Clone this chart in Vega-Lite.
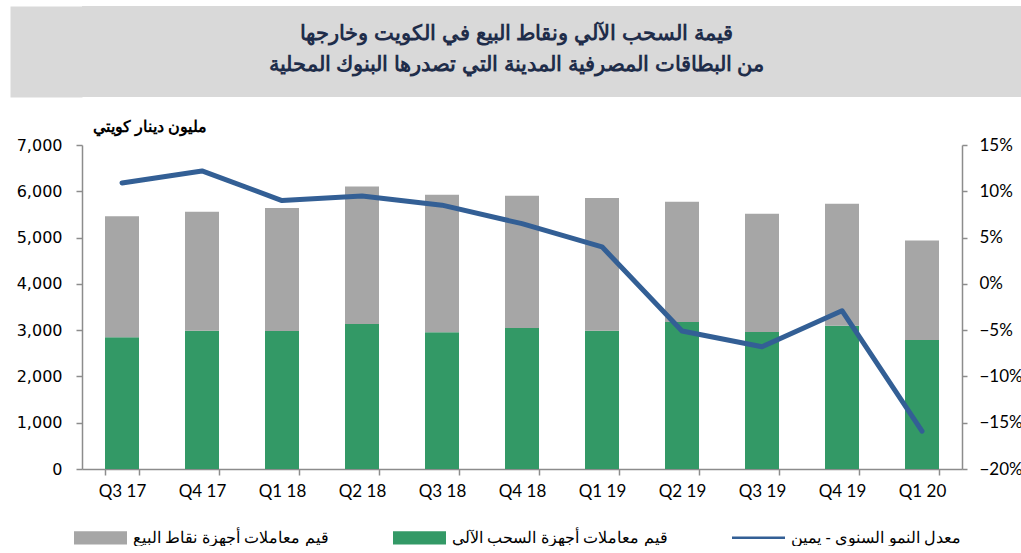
{
  "$schema": "https://vega.github.io/schema/vega-lite/v6.json",
  "padding": {"left": 16, "top": 6, "right": 0, "bottom": 0},
  "background": "white",
  "spacing": 22,
  "config": {
    "view": {"stroke": null},
    "font": "Liberation Sans"
  },
  "datasets": {
    "titles": [
      {"line": 1, "text": "قيمة السحب الآلي ونقاط البيع في الكويت وخارجها"},
      {"line": 2, "text": "من البطاقات المصرفية المدينة التي تصدرها البنوك المحلية"}
    ],
    "bars": [
      {"q": "Q3 17", "s": "قيم معاملات أجهزة السحب الآلي", "v": 2845},
      {"q": "Q3 17", "s": "قيم معاملات أجهزة نقاط البيع", "v": 2613},
      {"q": "Q4 17", "s": "قيم معاملات أجهزة السحب الآلي", "v": 2988},
      {"q": "Q4 17", "s": "قيم معاملات أجهزة نقاط البيع", "v": 2570},
      {"q": "Q1 18", "s": "قيم معاملات أجهزة السحب الآلي", "v": 2981},
      {"q": "Q1 18", "s": "قيم معاملات أجهزة نقاط البيع", "v": 2657},
      {"q": "Q2 18", "s": "قيم معاملات أجهزة السحب الآلي", "v": 3132},
      {"q": "Q2 18", "s": "قيم معاملات أجهزة نقاط البيع", "v": 2974},
      {"q": "Q3 18", "s": "قيم معاملات أجهزة السحب الآلي", "v": 2952},
      {"q": "Q3 18", "s": "قيم معاملات أجهزة نقاط البيع", "v": 2974},
      {"q": "Q4 18", "s": "قيم معاملات أجهزة السحب الآلي", "v": 3046},
      {"q": "Q4 18", "s": "قيم معاملات أجهزة نقاط البيع", "v": 2858},
      {"q": "Q1 19", "s": "قيم معاملات أجهزة السحب الآلي", "v": 2988},
      {"q": "Q1 19", "s": "قيم معاملات أجهزة نقاط البيع", "v": 2866},
      {"q": "Q2 19", "s": "قيم معاملات أجهزة السحب الآلي", "v": 3175},
      {"q": "Q2 19", "s": "قيم معاملات أجهزة نقاط البيع", "v": 2599},
      {"q": "Q3 19", "s": "قيم معاملات أجهزة السحب الآلي", "v": 2959},
      {"q": "Q3 19", "s": "قيم معاملات أجهزة نقاط البيع", "v": 2556},
      {"q": "Q4 19", "s": "قيم معاملات أجهزة السحب الآلي", "v": 3096},
      {"q": "Q4 19", "s": "قيم معاملات أجهزة نقاط البيع", "v": 2635},
      {"q": "Q1 20", "s": "قيم معاملات أجهزة السحب الآلي", "v": 2786},
      {"q": "Q1 20", "s": "قيم معاملات أجهزة نقاط البيع", "v": 2153}
    ],
    "growth": [
      {"q": "Q3 17", "g": 0.109},
      {"q": "Q4 17", "g": 0.122},
      {"q": "Q1 18", "g": 0.090},
      {"q": "Q2 18", "g": 0.095},
      {"q": "Q3 18", "g": 0.085},
      {"q": "Q4 18", "g": 0.065},
      {"q": "Q1 19", "g": 0.040},
      {"q": "Q2 19", "g": -0.051},
      {"q": "Q3 19", "g": -0.068},
      {"q": "Q4 19", "g": -0.029},
      {"q": "Q1 20", "g": -0.159}
    ]
  },
  "vconcat": [
    {
      "width": 941,
      "height": 91,
      "view": {"fill": "#D9D9D9", "stroke": null},
      "data": {"name": "titles"},
      "mark": {"type": "text", "font": "Liberation Sans", "fontSize": 21, "fontWeight": "bold", "color": "#1F2D4A", "align": "center", "baseline": "middle", "dy": -2, "dx": -36},
      "encoding": {
        "y": {
          "field": "line", "type": "ordinal", "scale": {"padding": 1.2},
          "axis": {"title": null, "labels": false, "ticks": false, "grid": false, "domain": true, "domainColor": "#D9D9D9", "domainWidth": 72, "offset": 36}
        },
        "text": {"field": "text", "type": "nominal"}
      }
    },
    {
      "width": 880,
      "height": 324,
      "encoding": {
        "x": {
          "field": "q", "type": "nominal", "sort": null,
          "scale": {"paddingInner": 0.575, "paddingOuter": 0.2875},
          "axis": {
            "title": null, "labelAngle": 0, "tickBand": "extent",
            "labelFont": "Lato", "labelFontSize": 17, "labelColor": "#000000", "labelPadding": 8,
            "domainColor": "#8C8C8C", "domainWidth": 1.5, "tickColor": "#8C8C8C", "tickWidth": 1.5, "tickSize": 6
          }
        }
      },
      "layer": [
        {
          "data": {"name": "bars"},
          "mark": {"type": "bar"},
          "encoding": {
            "y": {
              "field": "v", "type": "quantitative", "stack": "zero",
              "scale": {"domain": [0, 7000]},
              "axis": {
                "values": [0, 1000, 2000, 3000, 4000, 5000, 6000, 7000],
                "format": ",.0f", "grid": false,
                "labelFont": "DejaVu Sans", "labelFontSize": 16, "labelColor": "#000000", "labelPadding": 14,
                "domainColor": "#8C8C8C", "domainWidth": 1.5, "tickColor": "#8C8C8C", "tickWidth": 1.5, "tickSize": 6,
                "title": "مليون دينار كويتي", "titleAngle": 0, "titleAlign": "left", "titleBaseline": "middle",
                "titleX": 10, "titleY": -19, "titleFont": "Liberation Sans", "titleFontSize": 15.5, "titleFontWeight": "bold", "titleColor": "#000000"
              }
            },
            "color": {
              "field": "s", "type": "nominal",
              "scale": {
                "domain": ["قيم معاملات أجهزة نقاط البيع", "قيم معاملات أجهزة السحب الآلي", "معدل النمو السنوي - يمين"],
                "range": ["#A6A6A6", "#339966", "#335F95"]
              },
              "legend": {
                "title": null, "orient": "none", "direction": "horizontal", "columns": 3,
                "legendX": -8, "legendY": 505,
                "labelFont": "Liberation Sans", "labelFontSize": 16, "labelColor": "#000000", "labelLimit": 400,
                "columnPadding": 64, "symbolSize": 2809, "labelOffset": 6,
                "symbolStrokeWidth": 0,
                "encode": {
                  "symbols": {
                    "update": {
                      "shape": {"signal": "datum.value === 'معدل النمو السنوي - يمين' ? 'M-1,-0.05H1V0.05H-1Z' : 'M-1,-0.25H1V0.25H-1Z'"},
                      "fill": {"scale": "color", "field": "value"},
                      "strokeWidth": {"value": 0}
                    }
                  }
                }
              }
            },
            "order": {"field": "s", "sort": "ascending"}
          }
        },
        {
          "data": {"name": "growth"},
          "mark": {"type": "line", "strokeWidth": 5, "strokeJoin": "round", "strokeCap": "round"},
          "encoding": {
            "y": {
              "field": "g", "type": "quantitative",
              "scale": {"domain": [-0.2, 0.15]},
              "axis": {
                "orient": "right", "title": null, "grid": false,
                "values": [-0.2, -0.15, -0.1, -0.05, 0, 0.05, 0.1, 0.15],
                "format": ".0%",
                "labelFont": "Lato", "labelFontSize": 17, "labelColor": "#000000", "labelPadding": 12,
                "domainColor": "#8C8C8C", "domainWidth": 1.5, "tickColor": "#8C8C8C", "tickWidth": 1.5, "tickSize": 5
              }
            },
            "color": {"datum": "معدل النمو السنوي - يمين", "type": "nominal"}
          }
        }
      ],
      "resolve": {"scale": {"y": "independent"}}
    }
  ]
}
